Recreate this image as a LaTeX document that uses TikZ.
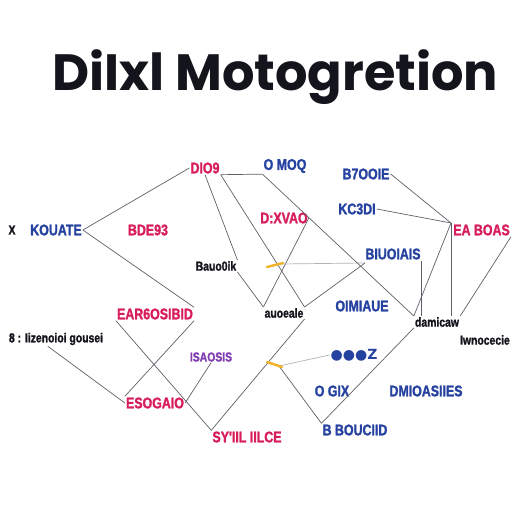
\documentclass[tikz,border=0pt]{standalone}
\usepackage{fontspec}
\setmainfont{Liberation Sans}
\newfontfamily\titlefont{Poppins}
\newfontfamily\lblfont{Liberation Sans}[FakeStretch=0.8, FakeBold=1.5]
\newfontfamily\dotfont{DejaVu Sans}
\definecolor{lblred}{RGB}{216,30,90}
\definecolor{lblblue}{RGB}{38,66,160}
\definecolor{lblpurple}{RGB}{128,62,176}
\definecolor{lblblack}{RGB}{20,20,28}
\definecolor{wiregray}{RGB}{95,95,105}
\definecolor{crossyellow}{RGB}{242,178,40}
\tikzset{
  lbl/.style={inner sep=1pt, font=\lblfont\bfseries\fontsize{15.5}{15.5}\selectfont},
  redlbl/.style={lbl, text=lblred},
  bluelbl/.style={lbl, text=lblblue},
  purplelbl/.style={lbl, text=lblpurple, font=\lblfont\bfseries\fontsize{13}{13}\selectfont},
  blacklbl/.style={lbl, text=lblblack, font=\lblfont\bfseries\fontsize{13}{13}\selectfont},
  wire/.style={draw=wiregray, line width=0.7pt},
  crossmark/.style={draw=crossyellow, line width=2.4pt, line cap=round}
}
\begin{document}
\begin{tikzpicture}[x=1pt, y=-1pt]
    \useasboundingbox (0,0) rectangle (512,512);
    \clip (0,0) rectangle (512,512);
    % title
    \node[anchor=base west, inner sep=0pt, text=lblblack,
          font=\titlefont\bfseries\fontsize{51}{51}\selectfont] (title) at (52,90) {DiIxl Motogretion};
    % labels
    \node[blacklbl] (xmark) at (12,230) {X};
    \node[bluelbl] (kouate) at (56,230) {KOUATE};
    \node[redlbl] (dio) at (205,168) {DIO9};
    \node[redlbl] (bde) at (148,230) {BDE93};
    \node[bluelbl] (omoq) at (285,166) {O MOQ};
    \node[bluelbl] (booie) at (366,174) {B7OOIE};
    \node[bluelbl] (kcdi) at (357,209) {KC3DI};
    \node[redlbl] (dxvao) at (284,218) {D:XVAO};
    \node[redlbl, anchor=east] (eaboas) at (511,230) {EA BOAS};
    \node[blacklbl] (bbuoik) at (216,266) {Bauo0ik};
    \node[bluelbl] (biuoiais) at (393,254) {BIUOIAIS};
    \node[blacklbl] (audesie) at (284,313) {auoeale};
    \node[bluelbl] (oimiaue) at (362,306) {OIMIAUE};
    \node[redlbl] (eargo) at (155,314) {EAR6OSIBID};
    \node[blacklbl] (izen) at (56,339) {8 : Iizenoioi gousei};
    \node[blacklbl] (damicaw) at (437,322) {damicaw};
    \node[blacklbl, anchor=east] (iwno) at (511,340) {Iwnocecie};
    \node[purplelbl] (isaosis) at (211,357) {ISAOSIS};
    \node[bluelbl, font=\dotfont\bfseries\fontsize{14}{14}\selectfont] (dots) at (354,355) {●●●Z};
    \node[bluelbl] (ogix) at (332,391) {O GIX};
    \node[bluelbl] (dmio) at (426,391) {DMIOASIIES};
    \node[redlbl] (esogaio) at (155,403) {ESOGAIO};
    \node[redlbl] (syil) at (247,437) {SY'IIL IILCE};
    \node[bluelbl] (boucid) at (355,430) {B BOUCIID};
    % junctions
    \coordinate (join) at (451,223);
    \coordinate (cross1) at (280,264);
    \coordinate (cross2) at (279,366);
    \coordinate (meet) at (365,263);
    % connectors
    \draw[wire] (kouate.east) -- (dio.west);
    \draw[wire] (kouate.east) -- (eargo.north east);
    \draw[wire] (dio.south east) -- (omoq.south west);
    \draw[wire] (dio.south) -- (bbuoik.north east);
    \draw[wire] (bbuoik.south east) -- (audesie.north west);
    \draw[wire] (dio.south east) -- (audesie.north east);
    \draw[wire] (dxvao.east) -- (audesie.north west);
    \draw[wire, draw=gray!60] (cross1) -- (meet);
    \draw[wire] (meet) -- (audesie.north east);
    \draw[wire] (omoq.south west) -- (damicaw.north west);
    \draw[wire] (booie.east) -- (join);
    \draw[wire] (kcdi.east) -- (join);
    \draw[wire] (join) -- (join |- damicaw.north);
    \draw[wire] (join) -- (damicaw.north west);
    \draw[wire] (eaboas.south east) -- (damicaw.north east);
    \draw[wire] (biuoiais.south east) -- (biuoiais.south east |- damicaw.north);
    \draw[wire] (damicaw.south west) -- (boucid.north west);
    \draw[wire] (audesie.south east) -- (syil.north west);
    \draw[wire, draw=gray!60] (cross2) -- (dots.west);
    \draw[wire] (cross2) -- (boucid.north west);
    \draw[wire] (izen.south west) ++(40,0) -- (esogaio.west);
    \draw[wire] (eargo.south east) -- (esogaio.north west);
    \draw[wire] (isaosis.south) -- (esogaio.east);
    \draw[wire] (eargo.south west) -- (syil.north west);
    % yellow crossings
    \draw[crossmark] (cross1) ++(-13,3) -- ++(16,-4);
    \draw[crossmark] (cross2) ++(-12,-4) -- ++(15,5);
\end{tikzpicture}
\end{document}
